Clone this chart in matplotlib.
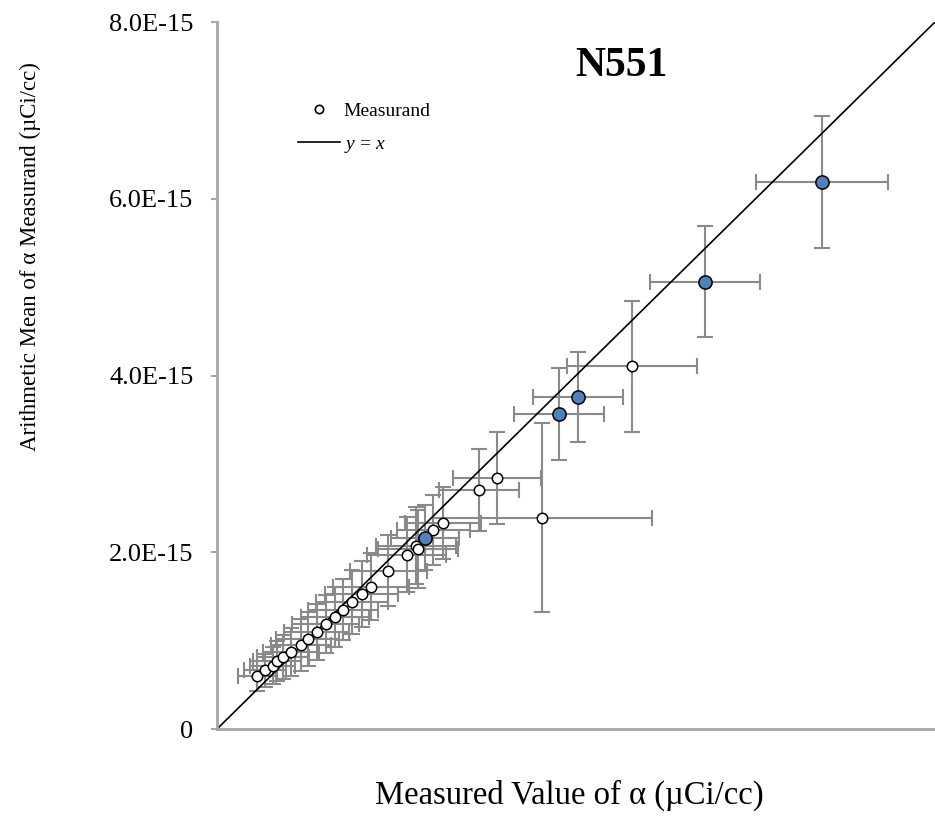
import numpy as np
import matplotlib
matplotlib.use("Agg")
import matplotlib.pyplot as plt
from matplotlib.lines import Line2D

plt.rcParams['font.family'] = ['Liberation Serif', 'DejaVu Serif']
plt.rcParams['mathtext.fontset'] = 'custom'
plt.rcParams['mathtext.rm'] = 'Liberation Serif'
plt.rcParams['mathtext.it'] = 'Liberation Serif:italic'

# values in units of 1E-15 uCi/cc
# open markers
meas_x = [0.442, 0.535, 0.621, 0.669, 0.739, 0.825, 0.936, 1.011, 1.111, 1.211,
          1.315, 1.407, 1.508, 1.612, 1.716, 1.909, 2.114, 2.217, 2.240, 2.412,
          2.518, 2.919, 3.120, 3.625, 4.624]
meas_y = [0.600, 0.662, 0.716, 0.769, 0.811, 0.874, 0.950, 1.018, 1.097, 1.188,
          1.267, 1.352, 1.440, 1.527, 1.610, 1.793, 1.974, 2.076, 2.036, 2.251,
          2.330, 2.704, 2.843, 2.390, 4.106]
meas_xerr = [0.21, 0.23, 0.25, 0.27, 0.29, 0.31, 0.33, 0.35, 0.36, 0.37,
             0.38, 0.39, 0.40, 0.41, 0.42, 0.43, 0.44, 0.45, 0.45, 0.41,
             0.42, 0.45, 0.49, 1.22, 0.72]
meas_yerr = [0.17, 0.19, 0.21, 0.23, 0.25, 0.27, 0.29, 0.31, 0.32, 0.33,
             0.34, 0.35, 0.36, 0.37, 0.38, 0.40, 0.42, 0.44, 0.44, 0.40,
             0.41, 0.46, 0.52, 1.07, 0.74]

# highlighted (blue) markers
blue_x = [2.318, 3.814, 4.026, 5.437, 6.741]
blue_y = [2.166, 3.560, 3.752, 5.060, 6.191]
blue_xerr = [0.38, 0.50, 0.50, 0.61, 0.73]
blue_yerr = [0.37, 0.52, 0.51, 0.63, 0.75]

yticks = [0, 2e-15, 4e-15, 6e-15, 8e-15]
ytick_labels = ["0", "2.0E-15", "4.0E-15", "6.0E-15", "8.0E-15"]

scale = 1e-15
W, H = 935, 839
fig = plt.figure(figsize=(W / 100, H / 100), dpi=100)
ax = fig.add_axes([217 / W, 110 / H, 718 / W, 707 / H])

ebar = '#8a8a8a'
ax.errorbar(np.array(meas_x) * scale, np.array(meas_y) * scale,
            xerr=np.array(meas_xerr) * scale, yerr=np.array(meas_yerr) * scale,
            fmt='none', ecolor=ebar, elinewidth=1.5, capsize=6, capthick=1.5, zorder=1)
ax.errorbar(np.array(blue_x) * scale, np.array(blue_y) * scale,
            xerr=np.array(blue_xerr) * scale, yerr=np.array(blue_yerr) * scale,
            fmt='none', ecolor=ebar, elinewidth=1.5, capsize=6, capthick=1.5, zorder=1)

ax.plot([0, 8.2e-15], [0, 8.2e-15], color='black', lw=1.2, zorder=2)

ax.plot(np.array(meas_x) * scale, np.array(meas_y) * scale, 'o', ms=7.5,
        mfc='white', mec='black', mew=1.1, zorder=3)
ax.plot(np.array(blue_x) * scale, np.array(blue_y) * scale, 'o', ms=9.5,
        mfc='#4F81BD', mec='black', mew=1.1, zorder=4)

ax.set_xlim(0, 8e-15)
ax.set_ylim(0, 8e-15)
ax.set_xticks([])
ax.set_yticks(yticks)
ax.set_yticklabels(ytick_labels, fontsize=19)
ax.tick_params(axis='y', length=4, width=1.5, color='#a6a6a6', pad=13)
for side in ['top', 'right']:
    ax.spines[side].set_visible(False)
for side in ['left', 'bottom']:
    ax.spines[side].set_color('#a6a6a6')
    ax.spines[side].set_linewidth(2)

fig.text(621 / W, 1 - 66 / H, "N551", fontsize=30, fontweight='bold',
         ha='center', va='center')
fig.text(569 / W, 1 - 795 / H, "Measured Value of α (µCi/cc)", fontsize=23.5,
         ha='center', va='center')
fig.text(30 / W, 1 - 257 / H, "Arithmetic Mean of α Measurand (µCi/cc)", fontsize=16.5,
         rotation=90, ha='center', va='center')

handles = [Line2D([], [], marker='o', ls='none', ms=6, mfc='white', mec='black', mew=1.2),
           Line2D([], [], color='black', lw=1.2)]
ax.legend(handles, ["Measurand", "$y$ = $x$"], loc='upper left',
          bbox_to_anchor=(298 / W, 1 - 102 / H), bbox_transform=fig.transFigure,
          frameon=False, fontsize=14, handlelength=2.15, handletextpad=0.2,
          labelspacing=0.8, borderpad=0, borderaxespad=0)

fig.savefig("out.png", dpi=100)
